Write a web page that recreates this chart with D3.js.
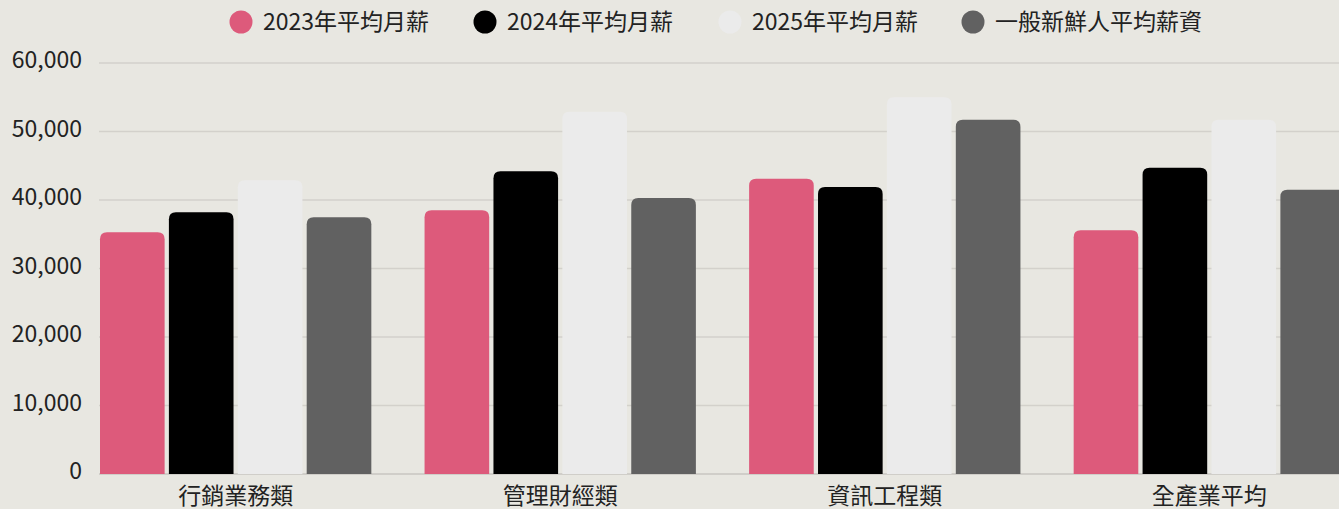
<!DOCTYPE html>
<html>
<head>
<meta charset="utf-8">
<script src="https://cdn.jsdelivr.net/npm/d3@7"></script>
<style>
  html, body { margin: 0; padding: 0; background: #e8e7e1; overflow: hidden; }
  svg { display: block; font-family: "Noto Sans CJK TC", "Noto Sans", sans-serif; }
</style>
</head>
<body>
<div id="chart"></div>
<script>
const categories = ['行銷業務類', '管理財經類', '資訊工程類', '全產業平均'];
const seriesNames = ['2023年平均月薪', '2024年平均月薪', '2025年平均月薪', '一般新鮮人平均薪資'];
const salary2023 = [35300, 38500, 43100, 35600];
const salary2024 = [38200, 44200, 41900, 44700];
const salary2025 = [42900, 52900, 55000, 51700];
const freshGrad = [37500, 40300, 51700, 41500];
const yTicks = [0, 10000, 20000, 30000, 40000, 50000, 60000];

const seriesValues = [salary2023, salary2024, salary2025, freshGrad];
const colors = ['#dd5a7b', '#000000', '#ebebeb', '#616161'];

const width = 1339, height = 509;
const svg = d3.select('#chart').append('svg').attr('width', width).attr('height', height);

const x0 = d3.scaleBand().domain(categories).range([100, 1345]).paddingInner(0.164).paddingOuter(0);
const x1 = d3.scaleBand().domain(d3.range(4)).range([0, x0.bandwidth()]).paddingInner(0.062);
const y = d3.scaleLinear().domain([0, 60000]).range([474, 63]);

// grid lines
svg.append('g').selectAll('line')
    .data(yTicks)
    .enter().append('line')
    .attr('x1', 99).attr('x2', width)
    .attr('y1', d => y(d)).attr('y2', d => y(d))
    .attr('stroke', d => d === 0 ? '#c8c6c0' : '#d3d1cb')
    .attr('stroke-width', 1.3);

// y axis labels
const yAxis = d3.axisLeft(y).tickValues(yTicks).tickFormat(d3.format(',')).tickSize(0).tickPadding(0);
const yg = svg.append('g').attr('transform', 'translate(82,0)').call(yAxis);
yg.select('.domain').remove();
yg.selectAll('text').attr('fill', '#222').attr('dy', '0.2em').style('font-size', '23px')
    .style('font-family', '"Noto Sans CJK TC", sans-serif');

// rounded top bar
function barPath(x, yTop, w, yBottom, r) {
    r = Math.min(r, (yBottom - yTop), w / 2);
    return 'M' + x + ',' + yBottom +
        'V' + (yTop + r) +
        'Q' + x + ',' + yTop + ' ' + (x + r) + ',' + yTop +
        'H' + (x + w - r) +
        'Q' + (x + w) + ',' + yTop + ' ' + (x + w) + ',' + (yTop + r) +
        'V' + yBottom + 'Z';
}

categories.forEach(function (cat, ci) {
    const g = svg.append('g').attr('transform', 'translate(' + x0(cat) + ',0)');
    seriesValues.forEach(function (vals, si) {
        g.append('path')
            .attr('d', barPath(x1(si), y(vals[ci]), x1.bandwidth(), y(0), 7))
            .attr('fill', colors[si]);
    });
});

// x axis labels
const xAxis = d3.axisBottom(x0).tickSize(0);
const xg = svg.append('g').attr('transform', 'translate(0,474)').call(xAxis);
xg.select('.domain').remove();
xg.selectAll('text').attr('fill', '#222').attr('y', 30).attr('dy', 0).style('font-size', '23px')
    .style('font-family', '"Noto Sans CJK TC", sans-serif');

// legend
const legendX = [241, 485, 730, 973];
const legend = svg.append('g').selectAll('g')
    .data(seriesNames)
    .enter().append('g')
    .attr('transform', (d, i) => 'translate(' + legendX[i] + ',22)');
legend.append('circle').attr('r', 11.5).attr('fill', (d, i) => colors[i]);
legend.append('text')
    .attr('x', 22).attr('dy', '0.36em')
    .attr('fill', '#222')
    .style('font-size', '23px')
    .text(d => d);
</script>
</body>
</html>
